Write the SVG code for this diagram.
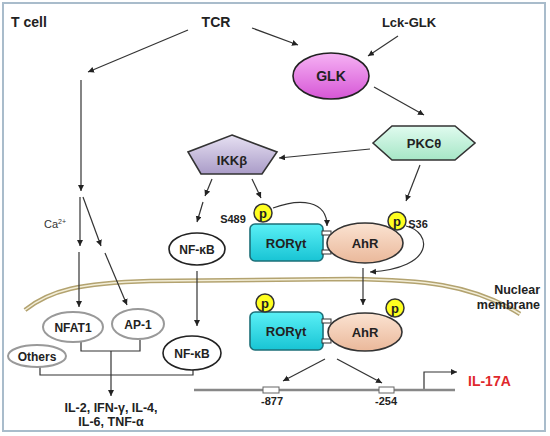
<svg xmlns="http://www.w3.org/2000/svg" width="550" height="436" viewBox="0 0 550 436">
<defs>
<marker id="ah" markerWidth="8" markerHeight="8" refX="6" refY="3" orient="auto" markerUnits="userSpaceOnUse">
<path d="M0,0 L6,3 L0,6 Z" fill="#222"/>
</marker>
<linearGradient id="gGLK" x1="0" y1="0" x2="0" y2="1"><stop offset="0" stop-color="#f6b2f4"/><stop offset="1" stop-color="#d656d6"/></linearGradient>
<linearGradient id="gPKC" x1="0" y1="0" x2="0" y2="1"><stop offset="0" stop-color="#e0fbef"/><stop offset="1" stop-color="#a6e6c6"/></linearGradient>
<linearGradient id="gIKK" x1="0" y1="0" x2="0" y2="1"><stop offset="0" stop-color="#e6e0f2"/><stop offset="1" stop-color="#aa9cc8"/></linearGradient>
<linearGradient id="gROR" x1="0" y1="0" x2="0" y2="1"><stop offset="0" stop-color="#5af0f6"/><stop offset="1" stop-color="#18c4d4"/></linearGradient>
<linearGradient id="gAhR" x1="0" y1="0" x2="0" y2="1"><stop offset="0" stop-color="#fbe3d2"/><stop offset="1" stop-color="#eab89a"/></linearGradient>
</defs>
<style>
text{font-family:"Liberation Sans",Arial,sans-serif;font-weight:bold;fill:#222}
.c{text-anchor:middle}
.ln{fill:none;stroke:#333;stroke-width:1.2}
.ar{fill:none;stroke:#333;stroke-width:1.2;marker-end:url(#ah)}
.p{fill:#ffff20;stroke:#333;stroke-width:1.5}
.pt{font-size:13px;text-anchor:middle}
.gray{fill:#fff;stroke:#999;stroke-width:2}
.blk{fill:#fff;stroke:#222;stroke-width:1.6}
</style>
<rect x="3" y="3" width="542" height="428" fill="#fff" stroke="#a9bccb" stroke-width="2"/>

<g id="membrane">
<path d="M25,310 C50,290 80,283 150,281 L350,279 C420,280 470,283 520,314" fill="none" stroke="#b3a370" stroke-width="4.5"/>
<path d="M25,310 C50,290 80,283 150,281 L350,279 C420,280 470,283 520,314" fill="none" stroke="#f3eed8" stroke-width="1.5"/>
</g>

<g id="connectors">
<path class="ar" d="M252,28 L298,45"/>
<path class="ar" d="M398,36 L368,56"/>
<path class="ar" d="M374,87 L424,115"/>
<path class="ar" d="M370,149 L279,158"/>
<path class="ar" d="M420,165 L406,201"/>
<path class="ar" d="M188,30 L88,72"/>
<path class="ar" d="M81,80 L81,191"/>
<path class="ar" d="M80,197 L80,246"/>
<path class="ar" d="M83,197 L101,246"/>
<path class="ar" d="M79,252 L79,307"/>
<path class="ar" d="M105,253 L127,305"/>
<path class="ar" d="M212,179 L205,196"/>
<path class="ar" d="M203,202 L197,222"/>
<path class="ar" d="M252,179 L261,198"/>
<path class="ar" d="M273,208 C300,198 327,200 327,226"/>
<path class="ar" d="M406,226 C432,232 436,268 370,272"/>
<path class="ar" d="M363,268 L363,305"/>
<path class="ar" d="M197,271 L197,326"/>
<path class="ln" d="M81,342 L81,351 L140,351 L140,340"/>
<path class="ln" d="M40,367 L40,375 L193,375 L193,370"/>
<path class="ar" d="M111,351 L111,396"/>
<path class="ar" d="M325,359 L283,381"/>
<path class="ar" d="M337,359 L382,383"/>
<path class="ar" d="M424,390 L424,372 L457,372"/>
</g>

<text x="11" y="27" font-size="14">T cell</text>
<text id="TCR" x="216" y="27" font-size="14" class="c">TCR</text>
<text id="LckGLK" x="409" y="27" font-size="13" class="c">Lck-GLK</text>

<g id="GLK">
<ellipse cx="331" cy="76" rx="38" ry="23" fill="url(#gGLK)" stroke="#222" stroke-width="1.6"/>
<text x="331" y="81" font-size="14" class="c">GLK</text>
</g>
<g id="PKC">
<polygon points="373,143 392,126 455,126 475,143 455,160 392,160" fill="url(#gPKC)" stroke="#333" stroke-width="1.6"/>
<text x="424" y="148" font-size="13" class="c">PKCθ</text>
</g>
<g id="IKK">
<polygon points="232,135 277,152 262,174 201,174 188,152" fill="url(#gIKK)" stroke="#333" stroke-width="1.6"/>
<text x="232" y="165" font-size="13" class="c">IKKβ</text>
</g>

<text x="44" y="228" font-size="11" style="font-weight:normal;fill:#333">Ca<tspan font-size="7" dy="-4">2+</tspan></text>

<g id="NFkB1">
<ellipse cx="197" cy="249" rx="28" ry="16" class="blk"/>
<text x="197" y="254" font-size="12" class="c">NF-κB</text>
</g>

<g id="complex1">
<rect x="250" y="224" width="73" height="37" rx="5" fill="url(#gROR)" stroke="#1d6f78" stroke-width="1.6"/>
<text x="286" y="248" font-size="13" class="c">RORγt</text>
<rect x="322" y="231" width="9" height="4" fill="#fff" stroke="#333" stroke-width="1"/>
<rect x="322" y="250" width="9" height="4" fill="#fff" stroke="#333" stroke-width="1"/>
<ellipse cx="365" cy="243" rx="38" ry="20" fill="url(#gAhR)" stroke="#333" stroke-width="1.6"/>
<text x="365" y="248" font-size="13" class="c">AhR</text>
<circle cx="263" cy="213" r="9" class="p"/>
<text x="263" y="218" class="pt">p</text>
<text x="233" y="223" font-size="11" class="c">S489</text>
<circle cx="397" cy="221" r="9" class="p"/>
<text x="397" y="226" class="pt">p</text>
<text x="418" y="228" font-size="11" class="c">S36</text>
</g>

<text x="540" y="294" font-size="12.5" text-anchor="end">Nuclear</text>
<text x="540" y="309" font-size="12.5" text-anchor="end">membrane</text>

<g id="NFAT1">
<ellipse cx="73" cy="327" rx="30" ry="15" class="gray"/>
<text x="73" y="332" font-size="12" class="c">NFAT1</text>
</g>
<g id="AP1">
<ellipse cx="138" cy="324" rx="26" ry="15" class="gray"/>
<text x="138" y="329" font-size="12" class="c">AP-1</text>
</g>
<g id="Others">
<ellipse cx="37" cy="356" rx="29" ry="11" class="gray"/>
<text x="37" y="361" font-size="12" class="c">Others</text>
</g>
<g id="NFkB2">
<ellipse cx="192" cy="353" rx="29" ry="17" class="blk"/>
<text x="192" y="358" font-size="12" class="c">NF-κB</text>
</g>

<g id="complex2">
<rect x="250" y="312" width="73" height="38" rx="5" fill="url(#gROR)" stroke="#1d6f78" stroke-width="1.6"/>
<text x="286" y="336" font-size="13" class="c">RORγt</text>
<rect x="322" y="319" width="9" height="4" fill="#fff" stroke="#333" stroke-width="1"/>
<rect x="322" y="339" width="9" height="4" fill="#fff" stroke="#333" stroke-width="1"/>
<ellipse cx="365" cy="332" rx="37" ry="19" fill="url(#gAhR)" stroke="#333" stroke-width="1.6"/>
<text x="365" y="337" font-size="13" class="c">AhR</text>
<circle cx="265" cy="303" r="9" class="p"/>
<text x="265" y="308" class="pt">p</text>
<circle cx="395" cy="308" r="9" class="p"/>
<text x="395" y="313" class="pt">p</text>
</g>

<text x="111" y="412" font-size="12.5" class="c">IL-2, IFN-γ, IL-4,</text>
<text x="111" y="426" font-size="12.5" class="c">IL-6, TNF-α</text>

<g id="dna">
<line x1="194" y1="390" x2="455" y2="390" stroke="#888" stroke-width="2.5"/>
<rect x="263" y="387" width="16" height="6" fill="#fff" stroke="#666" stroke-width="1"/>
<rect x="379" y="387" width="15" height="6" fill="#fff" stroke="#666" stroke-width="1"/>
<text x="272" y="405" font-size="11" class="c">-877</text>
<text x="386" y="405" font-size="11" class="c">-254</text>
</g>
<text x="468" y="386" font-size="14" style="fill:#e0282c">IL-17A</text>
</svg>
